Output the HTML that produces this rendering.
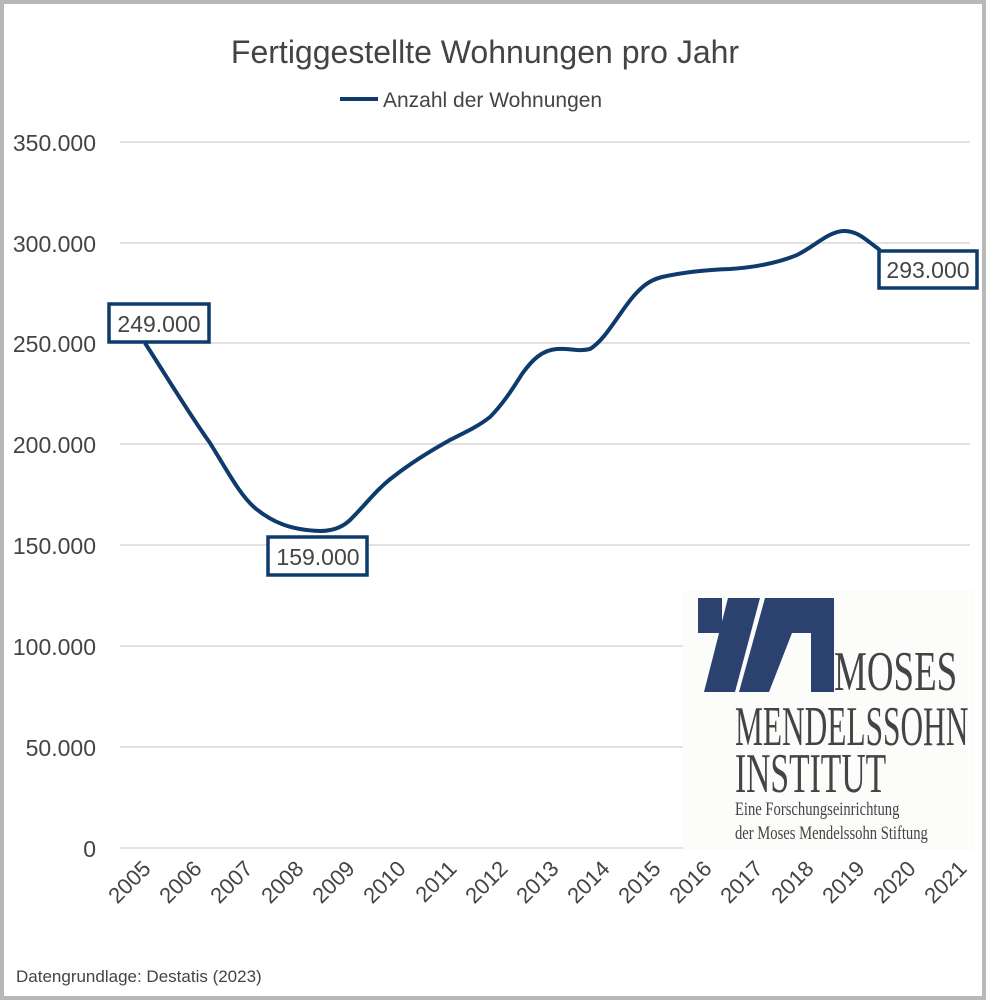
<!DOCTYPE html><html><head><style>html,body{margin:0;padding:0;background:#fff}svg{display:block}</style></head><body>
<svg width="986" height="1000" xmlns="http://www.w3.org/2000/svg" font-family="'Liberation Sans',sans-serif">
<rect x="2" y="2" width="982" height="996" fill="#fff" stroke="#b8b8b8" stroke-width="4"/>
<text x="485" y="63" font-size="32" fill="#444" text-anchor="middle">Fertiggestellte Wohnungen pro Jahr</text>
<line x1="340" y1="99" x2="378" y2="99" stroke="#0e3a6c" stroke-width="4"/>
<text x="383" y="107" font-size="21" fill="#444">Anzahl der Wohnungen</text>
<g stroke="#d9d9d9" stroke-width="1.5">
<line x1="120" y1="142" x2="970" y2="142"/><line x1="120" y1="243" x2="970" y2="243"/><line x1="120" y1="343" x2="970" y2="343"/><line x1="120" y1="444" x2="970" y2="444"/><line x1="120" y1="545" x2="970" y2="545"/><line x1="120" y1="646" x2="970" y2="646"/><line x1="120" y1="747" x2="970" y2="747"/><line x1="120" y1="848" x2="970" y2="848"/></g>
<g font-size="23" fill="#444" text-anchor="end">
<text x="96" y="151">350.000</text><text x="96" y="252">300.000</text><text x="96" y="352">250.000</text><text x="96" y="453">200.000</text><text x="96" y="554">150.000</text><text x="96" y="655">100.000</text><text x="96" y="756">50.000</text><text x="96" y="857">0</text></g>
<g font-size="22" fill="#444" text-anchor="end">
<text transform="translate(152,870) rotate(-45)">2005</text><text transform="translate(203,870) rotate(-45)">2006</text><text transform="translate(254,870) rotate(-45)">2007</text><text transform="translate(305,870) rotate(-45)">2008</text><text transform="translate(356,870) rotate(-45)">2009</text><text transform="translate(407,870) rotate(-45)">2010</text><text transform="translate(458,870) rotate(-45)">2011</text><text transform="translate(509,870) rotate(-45)">2012</text><text transform="translate(560,870) rotate(-45)">2013</text><text transform="translate(611,870) rotate(-45)">2014</text><text transform="translate(662,870) rotate(-45)">2015</text><text transform="translate(713,870) rotate(-45)">2016</text><text transform="translate(764,870) rotate(-45)">2017</text><text transform="translate(815,870) rotate(-45)">2018</text><text transform="translate(866,870) rotate(-45)">2019</text><text transform="translate(917,870) rotate(-45)">2020</text><text transform="translate(968,870) rotate(-45)">2021</text></g>
<path d="M145,343 C170,382 190,415 210,443 C228,472 240,495 255,508 C272,522 290,530 320,531 C335,531 345,526 353,517 C365,505 378,488 393,477 C412,462 432,450 450,440 C470,430 480,425 490,417 C502,405 512,390 522,374 C532,360 542,350 557,349 C570,348 578,352 590,349 C605,340 618,315 632,298 C642,286 650,280 662,277 C680,273 700,270 730,269 C760,267 780,262 797,255 C815,246 828,232 843,231 C858,230 868,242 880,250" fill="none" stroke="#0e3a6c" stroke-width="4"/>
<rect x="109" y="304" width="100" height="38" fill="#fff" stroke="#0e3a6c" stroke-width="3.5"/>
<text x="159" y="332" font-size="23" fill="#444" text-anchor="middle">249.000</text>
<rect x="268" y="537" width="99" height="38" fill="#fff" stroke="#0e3a6c" stroke-width="3.5"/>
<text x="318" y="565" font-size="23" fill="#444" text-anchor="middle">159.000</text>
<rect x="879" y="251" width="98" height="37" fill="#fff" stroke="#0e3a6c" stroke-width="3.5"/>
<text x="928" y="278" font-size="23" fill="#444" text-anchor="middle">293.000</text>
<rect x="683" y="590" width="292" height="260" fill="#fcfcfb"/>
<g fill="#2b4170">
<polygon points="698,598 722,598 722,633 698,633"/>
<polygon points="728,598 760,598 735,692 704,692"/>
<polygon points="765,598 834,598 834,692 811,692 811,633 792,633 769,692 739,692"/>
</g>
<g font-family="'Liberation Serif',serif" fill="#444">
<text x="834" y="690" font-size="56" transform="translate(834,690) scale(0.66,1) translate(-834,-690)">MOSES</text>
<text x="735" y="745" font-size="56" transform="translate(735,745) scale(0.56,1) translate(-735,-745)">MENDELSSOHN</text>
<text x="735" y="792" font-size="56" transform="translate(735,792) scale(0.6,1) translate(-735,-792)">INSTITUT</text>
<text x="735" y="815" font-size="19" transform="translate(735,815) scale(0.77,1) translate(-735,-815)">Eine Forschungseinrichtung</text>
<text x="735" y="839" font-size="19" transform="translate(735,839) scale(0.77,1) translate(-735,-839)">der Moses Mendelssohn Stiftung</text>
</g>
<text x="16" y="982" font-size="17" fill="#444">Datengrundlage: Destatis (2023)</text>
</svg></body></html>
